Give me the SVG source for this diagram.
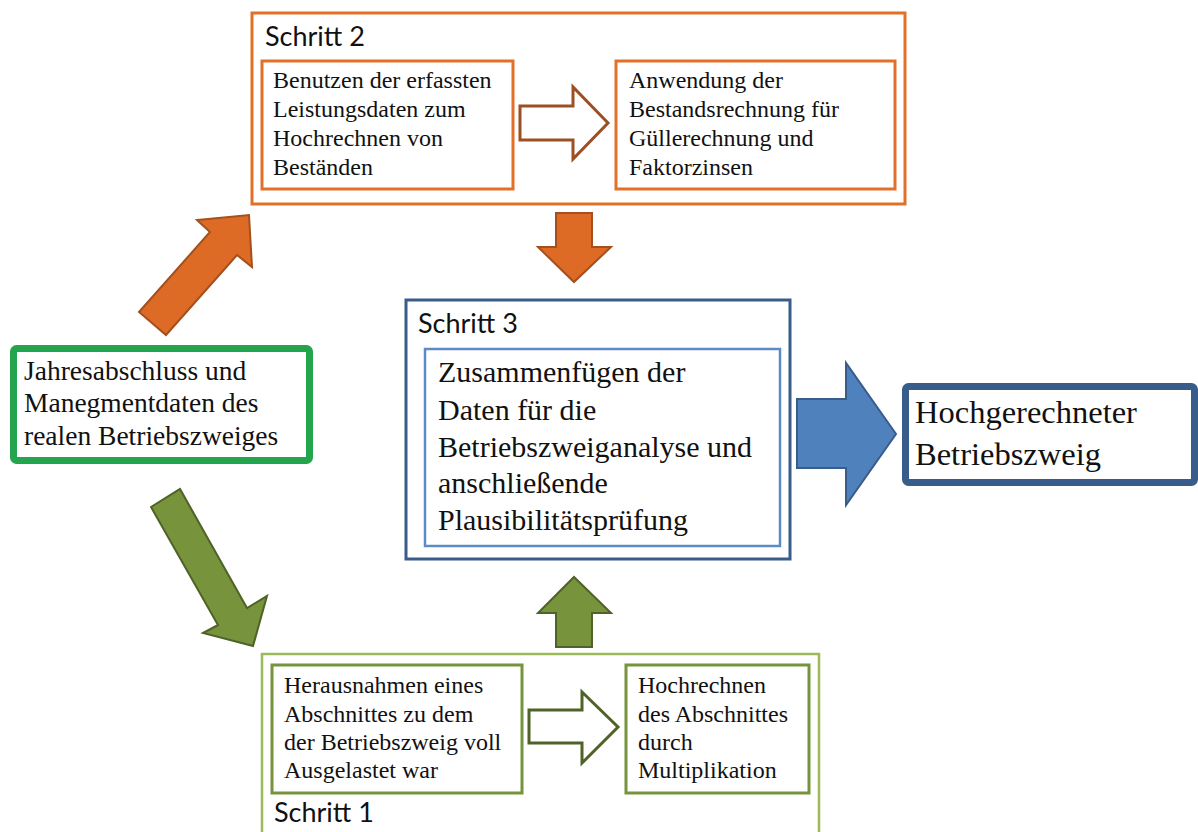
<svg xmlns="http://www.w3.org/2000/svg" width="1198" height="832" viewBox="0 0 1198 832">
<style>
.serif{font-family:"Liberation Serif","Times New Roman",serif;fill:#111}
.s23{font-size:24px}
.s26{font-size:27.5px}
.s29{font-size:30px}
.s31{font-size:32.5px}
.step{font-family:Lato,"Open Sans","Liberation Sans",sans-serif;font-size:27px;fill:#111}
.orangeBox{fill:#fff;stroke:#E2702B;stroke-width:3}
.blueOuter{fill:#fff;stroke:#385D8A;stroke-width:3}
.blueInner{fill:#fff;stroke:#5B8CC8;stroke-width:2.5}
.greenOuter{fill:#fff;stroke:#9BBB59;stroke-width:2.5}
.greenInner{fill:#fff;stroke:#77933C;stroke-width:3}
.arrOrange{fill:#DD6B25;stroke:#A4501E;stroke-width:2;stroke-linejoin:miter}
.arrGreen{fill:#77933C;stroke:#4F6228;stroke-width:2}
.arrBlue{fill:#4F81BD;stroke:#385D8A;stroke-width:2}
.hollowOrange{fill:#fff;stroke:#9C4F22;stroke-width:3}
.hollowGreen{fill:#fff;stroke:#4F6228;stroke-width:3}
</style>
<rect width="1198" height="832" fill="#fff"/>

<g id="schritt2">
<rect class="orangeBox" x="252" y="13" width="653" height="191"/>
<text class="step" x="265" y="46">Schritt 2</text>
</g>
<g id="benutzen">
<rect class="orangeBox" x="262" y="61" width="251" height="128"/>
<text class="serif s23" x="273" y="88">Benutzen der erfassten</text>
<text class="serif s23" x="273" y="117">Leistungsdaten zum</text>
<text class="serif s23" x="273" y="146">Hochrechnen von</text>
<text class="serif s23" x="273" y="175">Beständen</text>
</g>
<g id="anwendung">
<rect class="orangeBox" x="616" y="61" width="279" height="128"/>
<text class="serif s23" x="629" y="88">Anwendung der</text>
<text class="serif s23" x="629" y="117">Bestandsrechnung für</text>
<text class="serif s23" x="629" y="146">Güllerechnung und</text>
<text class="serif s23" x="629" y="175">Faktorzinsen</text>
</g>

<g id="jahresabschluss">
<rect x="13.5" y="348.5" width="296" height="112" rx="3" fill="#fff" stroke="#23A54D" stroke-width="7"/>
<text class="serif s26" x="24" y="380">Jahresabschluss und</text>
<text class="serif s26" x="24" y="412">Manegmentdaten des</text>
<text class="serif s26" x="24" y="445">realen Betriebszweiges</text>
</g>

<g id="schritt3">
<rect class="blueOuter" x="406" y="300" width="384" height="259"/>
<text class="step" x="418" y="333">Schritt 3</text>
<rect class="blueInner" x="425" y="349" width="355" height="197"/>
<text class="serif s29" x="438" y="382">Zusammenfügen der</text>
<text class="serif s29" x="438" y="420">Daten für die</text>
<text class="serif s29" x="438" y="457">Betriebszweiganalyse und</text>
<text class="serif s29" x="438" y="493">anschließende</text>
<text class="serif s29" x="438" y="530">Plausibilitätsprüfung</text>
</g>

<g id="hochgerechneter">
<rect x="905.5" y="386.5" width="289" height="96" rx="3" fill="#fff" stroke="#385D8A" stroke-width="7"/>
<text class="serif s31" x="915" y="423">Hochgerechneter</text>
<text class="serif s31" x="915" y="465">Betriebszweig</text>
</g>

<g id="schritt1">
<rect class="greenOuter" x="262" y="654" width="557" height="190"/>
<text class="step" x="274" y="822">Schritt 1</text>
</g>
<g id="herausnahmen">
<rect class="greenInner" x="272" y="665" width="250" height="128"/>
<text class="serif s23" x="284" y="693">Herausnahmen eines</text>
<text class="serif s23" x="284" y="722">Abschnittes zu dem</text>
<text class="serif s23" x="284" y="750">der Betriebszweig voll</text>
<text class="serif s23" x="284" y="778">Ausgelastet war</text>
</g>
<g id="hochrechnen">
<rect class="greenInner" x="626" y="665" width="183" height="128"/>
<text class="serif s23" x="638" y="693">Hochrechnen</text>
<text class="serif s23" x="638" y="722">des Abschnittes</text>
<text class="serif s23" x="638" y="750">durch</text>
<text class="serif s23" x="638" y="778">Multiplikation</text>
</g>

<g id="connectors">
<polygon class="arrOrange" points="139,312 210,232 197,220 249,215 252,267 237,255 166,335"/>
<polygon class="arrGreen" points="151,507 218,625 203,633 253,646 267,596 247,608 180,489"/>
<polygon class="hollowOrange" points="520,106 573,106 573,87 608,123 573,159 573,140 520,140"/>
<polygon class="arrOrange" points="556,213 592,213 592,247 611,247 574,282 538,247 556,247"/>
<polygon class="arrGreen" points="556,647 592,647 592,613 611,613 574,577 538,613 556,613"/>
<polygon class="hollowGreen" points="529,710 582,710 582,692 618,727 582,763 582,743 529,743"/>
<polygon class="arrBlue" points="797,399 846,399 846,363 896,434 846,505 846,468 797,468"/>
</g>
</svg>
